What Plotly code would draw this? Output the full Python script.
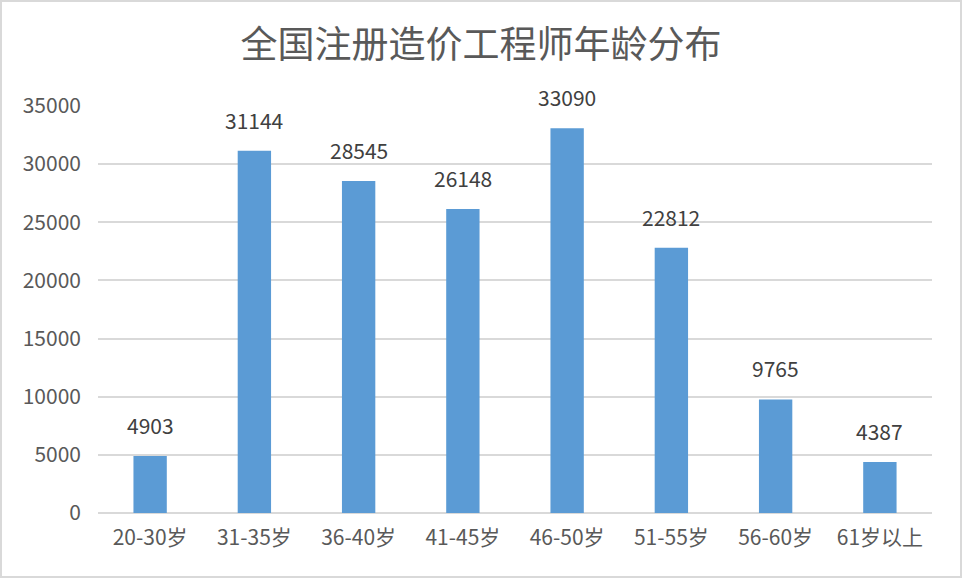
import plotly.graph_objects as go

# dữ liệu
age_groups = ["20-30岁", "31-35岁", "36-40岁", "41-45岁", "46-50岁", "51-55岁", "56-60岁", "61岁以上"]
counts = [4903, 31144, 28545, 26148, 33090, 22812, 9765, 4387]
y_ticks = [0, 5000, 10000, 15000, 20000, 25000, 30000, 35000]

W, H = 962, 578
ml, mr, mt, mb = 98, 30, 106, 65
pw, ph = W - ml - mr, H - mt - mb

FONT = "Noto Sans CJK SC, Microsoft YaHei, sans-serif"

fig = go.Figure(go.Bar(
    x=age_groups,
    y=counts,
    marker=dict(color="#5B9BD5", line=dict(width=0)),
    hoverinfo="x+y",
))

# nhãn số phía trên cột
for cat, v in zip(age_groups, counts):
    fig.add_annotation(
        x=cat, y=v, text=str(v), showarrow=False,
        yanchor="bottom", yshift=14,
        font=dict(family=FONT, size=21, color="#404040"),
    )

# khung viền xám quanh toàn bộ biểu đồ
fig.add_shape(
    type="rect", xref="paper", yref="paper",
    x0=(-ml + 1) / pw, x1=(pw + mr - 1) / pw,
    y0=(-mb + 1) / ph, y1=(ph + mt - 1) / ph,
    line=dict(color="#d9d9d9", width=2), fillcolor="rgba(0,0,0,0)",
    layer="above",
)

fig.update_layout(
    width=W, height=H,
    margin=dict(l=ml, r=mr, t=mt, b=mb),
    paper_bgcolor="white", plot_bgcolor="white",
    bargap=0.68,
    showlegend=False,
    title=dict(
        text="全国注册造价工程师年龄分布",
        x=0.5, xref="container", xanchor="center",
        y=1 - 45 / H, yanchor="middle",
        font=dict(family=FONT, size=37, color="#595959"),
    ),
    font=dict(family=FONT, size=21, color="#595959"),
    xaxis=dict(
        showgrid=False, showline=False, ticks="",
        ticklabelstandoff=10,
        tickfont=dict(family=FONT, size=21, color="#595959"),
    ),
    yaxis=dict(
        range=[0, 35000], tickvals=y_ticks,
        ticktext=[str(t) for t in y_ticks],
        showgrid=True, gridcolor="#d9d9d9", gridwidth=1.5,
        zeroline=True, zerolinecolor="#d9d9d9", zerolinewidth=1.5,
        showline=False, ticks="",
        ticklabelstandoff=16,
        tickfont=dict(family=FONT, size=21, color="#595959"),
    ),
)

fig.write_html(
    "out.html",
    config={"displayModeBar": False},
    post_script="document.body.style.margin='0';",
)
